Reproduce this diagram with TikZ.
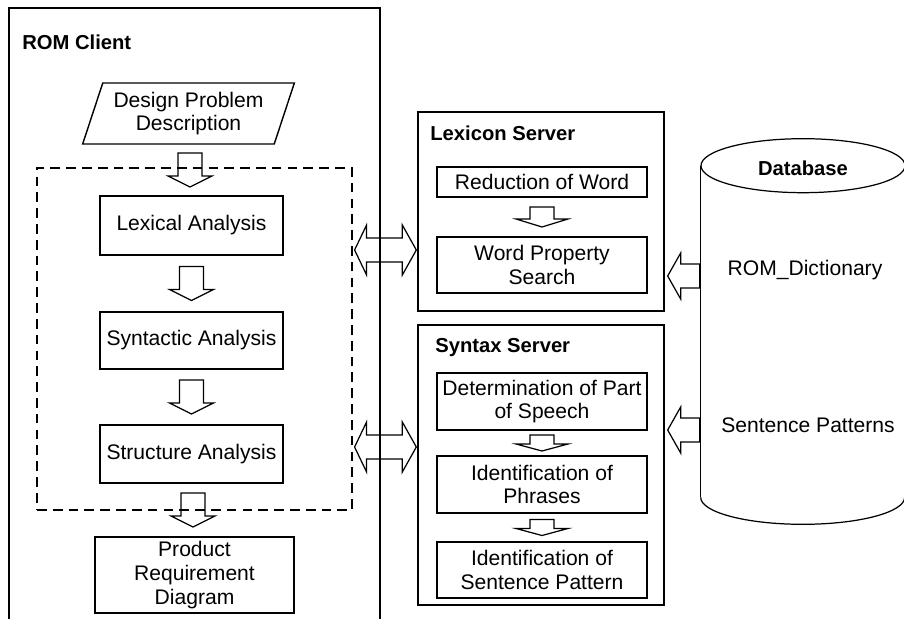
\documentclass[tikz,border=0pt]{standalone}
\usepackage{fontspec}
\setmainfont{Liberation Sans}
\usetikzlibrary{calc,shapes.geometric}

\newcommand\fatdown[5]{%
\coordinate (mid) at ($(#1.south)!0.5!(#2.north)$);
\draw[fatline] ($(mid)+(-12,-#3)$) -- ($(mid)+(12,-#3)$) -- ($(mid)+(12,#3-#5)$) -- ($(mid)+(#4,#3-#5)$) -- ($(mid)+(0,#3)$) -- ($(mid)+(-#4,#3-#5)$) -- ($(mid)+(-12,#3-#5)$) -- cycle;}
\newcommand\fatboth[3]{%
\coordinate (tl) at ($(#1.east |- #3)+(2,0)$);
\coordinate (tr) at ($(#2.west |- #3)+(-1,0)$);
\draw[fatline] (tl) -- ($(tl)+(12,-25)$) -- ($(tl)+(12,-12)$) -- ($(tr)+(-14,-12)$) -- ($(tr)+(-14,-25)$) -- (tr) -- ($(tr)+(-14,25)$) -- ($(tr)+(-14,12)$) -- ($(tl)+(12,12)$) -- ($(tl)+(12,25)$) -- cycle;}
\newcommand\fatleft[3]{%
\coordinate (tt) at ($(#2.east |- #3)+(3,0)$);
\coordinate (te) at ($(#1.west |- #3)+(-1,0)$);
\draw[fatline] (tt) -- ($(tt)+(13,-23)$) -- ($(tt)+(13,-12)$) -- ($(te)+(0,-12)$) -- ($(te)+(0,12)$) -- ($(tt)+(13,12)$) -- ($(tt)+(13,23)$) -- cycle;}

\begin{document}
\begin{tikzpicture}[x=0.02cm,y=-0.02cm]
\tikzset{boite/.style={draw, line width=0.8pt, align=center, inner sep=0pt, font=\fontsize{12}{13.6}\selectfont},
titre/.style={anchor=west, inner sep=0pt, font=\fontsize{11.5}{13.5}\selectfont\bfseries},
texte/.style={inner sep=0pt, font=\fontsize{12}{13.6}\selectfont},
fatline/.style={line width=0.7pt, line join=miter}}
\useasboundingbox (0,0) rectangle (904,619);
\draw[line width=0.7pt] (9,625) |- (380,8) -- (380,625);
\node[titre] (client) at (22,42) {ROM Client};
\node[boite, trapezium, trapezium left angle=68, trapezium right angle=112, trapezium stretches=true, minimum width=4.24cm, minimum height=1.22cm] (desc) at (188.5,113.5) {Design Problem\\Description};
\node[draw, dash pattern=on 5.5pt off 3.5pt, line width=0.7pt, minimum width=6.3cm, minimum height=6.84cm] (dash) at (194.5,339) {};
\node[boite, minimum width=3.66cm, minimum height=1.18cm] (lex) at (191.5,225.5) {Lexical Analysis};
\node[boite, minimum width=3.66cm, minimum height=1.14cm] (syn) at (191.5,340.5) {Syntactic Analysis};
\node[boite, minimum width=3.66cm, minimum height=1.16cm] (str) at (191.5,454) {Structure Analysis};
\node[boite, minimum width=3.98cm, minimum height=1.52cm] (prod) at (194.5,575) {Product\\Requirement\\Diagram};
\fatdown{desc}{lex}{17}{22}{11}
\fatdown{lex}{syn}{17}{22}{11}
\fatdown{syn}{str}{17}{22}{11}
\fatdown{str}{prod}{17}{22}{11}
\node[boite, minimum width=4.92cm, minimum height=3.98cm] (lexsrv) at (541,211.5) {};
\node[titre] (lextitre) at (430,133) {Lexicon Server};
\node[boite, minimum width=4.2cm, minimum height=0.6cm] (red) at (542,182) {Reduction of Word};
\node[boite, minimum width=4.2cm, minimum height=1.12cm] (wps) at (542,265) {Word Property\\Search};
\fatdown{red}{wps}{10}{26}{8}
\node[boite, minimum width=4.92cm, minimum height=5.6cm] (synsrv) at (541,465) {};
\node[titre] (syntitre) at (435,348) {Syntax Server};
\node[boite, minimum width=4.2cm, minimum height=1.14cm] (det) at (542,401.5) {Determination of Part\\of Speech};
\node[boite, minimum width=4.2cm, minimum height=1.14cm] (phr) at (542,484.5) {Identification of\\Phrases};
\node[boite, minimum width=4.2cm, minimum height=1.12cm] (sen) at (542,570) {Identification of\\Sentence Pattern};
\fatdown{det}{phr}{8}{26}{7}
\fatdown{phr}{sen}{8}{26}{7}
\node[minimum width=4.08cm, minimum height=6.62cm, inner sep=0pt] (db) at (803,331.5) {};
\draw[line width=0.7pt] (db.north west) -- (db.south west);
\draw[line width=0.7pt] (db.north east) -- (db.south east);
\draw[line width=0.7pt] (db.north) ellipse [x radius=102, y radius=27];
\draw[line width=0.7pt] (db.south west) arc [start angle=180, end angle=0, x radius=102, y radius=27];
\node[texte, font=\fontsize{11.5}{13.5}\selectfont\bfseries] (dbtitre) at (803,168) {Database};
\node[texte] (dict) at (805,270) {ROM\_Dictionary};
\node[texte] (pat) at (808,425) {Sentence Patterns};
\coordinate (hu) at (0,250);
\coordinate (hl) at (0,447);
\coordinate (du) at (0,276);
\coordinate (dl) at (0,430);
\fatboth{dash}{lexsrv}{hu}
\fatboth{dash}{synsrv}{hl}
\fatleft{db}{lexsrv}{du}
\fatleft{db}{synsrv}{dl}
\end{tikzpicture}
\end{document}
